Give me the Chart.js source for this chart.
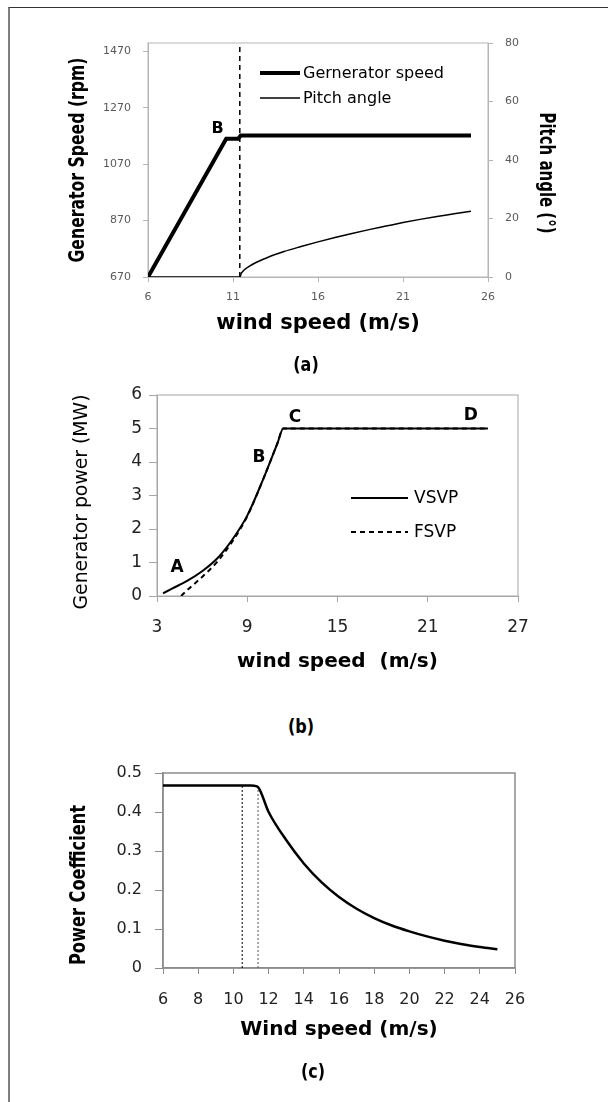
<!DOCTYPE html>
<html>
<head>
<meta charset="utf-8">
<script src="https://cdn.jsdelivr.net/npm/chart.js@4.4.1/dist/chart.umd.min.js"></script>
<style>
  body { margin: 0; background: #fff; }
  #page { position: relative; width: 608px; height: 1102px; overflow: hidden; background: #fff; }
  .frame { position: absolute; left: 8px; top: 7px; right: -2px; bottom: -2px; border-left: 2px solid #7f7f7f; border-top: 1px solid #333; }
  canvas { position: absolute; left: 0; }
  .cap { position: absolute; transform: translate(-50%, -50%) scaleX(0.8); font: bold 20px "DejaVu Sans", sans-serif; color: #000; }
</style>
</head>
<body>
<div id="page">
  <div class="frame"></div>
  <canvas id="chartA" width="608" height="380" style="top:0px"></canvas>
  <canvas id="chartB" width="608" height="330" style="top:370px"></canvas>
  <canvas id="chartC" width="608" height="362" style="top:740px"></canvas>
  <div class="cap" style="left:306px; top:364px">(a)</div>
  <div class="cap" style="left:301px; top:726px">(b)</div>
  <div class="cap" style="left:313px; top:1071px">(c)</div>
</div>
<script>
// (a) generator speed and pitch angle vs wind speed
const genWind = [6, 10.6, 11.3, 11.45, 25];
const genSpeed = [670, 1160, 1160, 1172, 1172];
const pitchWind = [6, 11.4, 11.5, 12, 13, 14, 15, 16, 17, 18, 19, 20, 21, 22, 23, 24, 25];
const pitchAngle = [0, 0, 1.4, 3.8, 6.6, 8.7, 10.4, 12.0, 13.5, 14.9, 16.2, 17.4, 18.6, 19.7, 20.7, 21.6, 22.5];
const ratedWind = 11.4;
const aWindTicks = [6, 11, 16, 21, 26];
const aSpeedTicks = [670, 870, 1070, 1270, 1470];
const aPitchTicks = [0, 20, 40, 60, 80];

// (b) generator power
const vsvpWind = [3.4, 4, 5, 6, 7, 8, 9, 10, 11, 11.4, 25];
const vsvpPower = [0.08, 0.22, 0.45, 0.74, 1.12, 1.68, 2.4, 3.42, 4.55, 5, 5];
const fsvpWind = [4.6, 5, 6, 7, 8, 9, 10, 11, 11.4, 25];
const fsvpPower = [0, 0.17, 0.57, 1.02, 1.62, 2.38, 3.42, 4.55, 5, 5];
const bWindTicks = [3, 9, 15, 21, 27];
const bPowerTicks = [0, 1, 2, 3, 4, 5, 6];

// (c) power coefficient
const cpWind = [6, 7, 8, 9, 10, 10.5, 11, 11.2, 11.4, 12, 13, 14, 15, 16, 17, 18, 19, 20, 21, 22, 23, 24, 25];
const cpValue = [0.468, 0.468, 0.468, 0.468, 0.468, 0.468, 0.468, 0.467, 0.464, 0.400, 0.328, 0.268, 0.220, 0.182, 0.152, 0.128, 0.109, 0.094, 0.081, 0.070, 0.061, 0.054, 0.048];
const cpMarkWind = [10.5, 11.4];
const cWindTicks = [6, 8, 10, 12, 14, 16, 18, 20, 22, 24, 26];
const cCpTicks = [0, 0.1, 0.2, 0.3, 0.4, 0.5];

Chart.defaults.font.family = '"DejaVu Sans", sans-serif';
Chart.defaults.color = '#000';
Chart.defaults.animation = false;

const pts = (xs, ys) => xs.map((x, i) => ({ x: x, y: ys[i] }));
const tickFix = values => scale => { scale.ticks = values.map(v => ({ value: v })); };

// plot box around the chart area
const framePlugin = {
  id: 'frame',
  beforeDatasetsDraw(chart, args, opts) {
    const { left, top, right, bottom } = chart.chartArea;
    const ctx = chart.ctx;
    ctx.save();
    ctx.strokeStyle = opts.color;
    ctx.lineWidth = opts.width;
    ctx.strokeRect(left, top, right - left, bottom - top);
    ctx.restore();
  }
};

// letters on the curves, the little key box and the squeezed side titles
const notesPlugin = {
  id: 'notes',
  afterDatasetsDraw(chart, args, opts) {
    const ctx = chart.ctx;
    const area = chart.chartArea;
    ctx.save();
    ctx.fillStyle = '#000';
    ctx.textBaseline = 'middle';
    ctx.textAlign = 'center';
    ctx.font = opts.font;
    (opts.items || []).forEach(n => {
      const x = chart.scales.x.getPixelForValue(n.x);
      const y = chart.scales[n.axis || 'y'].getPixelForValue(n.y);
      ctx.fillText(n.text, x, y);
    });
    ctx.textAlign = 'left';
    ctx.font = opts.keyFont;
    (opts.keys || []).forEach(k => {
      const y = area.top + k.dy;
      ctx.strokeStyle = '#000';
      ctx.lineWidth = k.width;
      ctx.setLineDash(k.dash || []);
      ctx.beginPath();
      ctx.moveTo(area.left + opts.x0, y);
      ctx.lineTo(area.left + opts.x1, y);
      ctx.stroke();
      ctx.setLineDash([]);
      ctx.fillText(k.label, area.left + opts.tx, y + 1);
    });
    ctx.textAlign = 'center';
    (opts.sides || []).forEach(t => {
      ctx.save();
      ctx.translate(t.cx, t.cy);
      ctx.rotate(t.right ? Math.PI / 2 : -Math.PI / 2);
      ctx.font = t.font;
      ctx.fillText(t.text, 0, 0, t.len);
      ctx.restore();
    });
    ctx.restore();
  }
};

function axisBase(color, tickLen, ticks, size, pad) {
  return {
    type: 'linear',
    afterBuildTicks: tickFix(ticks),
    grid: { drawOnChartArea: false, drawTicks: true, tickLength: tickLen, color: color, tickColor: color },
    border: { display: true, color: color },
    ticks: { autoSkip: false, maxRotation: 0, padding: pad, font: { size: size }, callback: v => String(v) }
  };
}

// ---------- (a) ----------
const grayA = '#b5b5b5';
const axA = {
  x: Object.assign(axisBase(grayA, 5, aWindTicks, 11, 9), {
    min: 6, max: 26,
    afterFit: s => { s.height = 103; },
    title: { display: true, text: 'wind speed (m/s)', font: { size: 21, weight: 'bold' }, padding: { top: 0, bottom: 44 } }
  }),
  y: Object.assign(axisBase(grayA, 5, aSpeedTicks, 11, 12), {
    position: 'left', min: 670, max: 1500,
    afterFit: s => { s.width = 148; }
  }),
  y1: Object.assign(axisBase(grayA, 5, aPitchTicks, 11, 12), {
    position: 'right', min: 0, max: 80,
    afterFit: s => { s.width = 120; }
  })
};
axA.x.ticks.color = '#595959';
axA.y.ticks.color = '#595959';
axA.y1.ticks.color = '#595959';

new Chart(document.getElementById('chartA'), {
  type: 'line',
  data: {
    datasets: [
      { data: pts(genWind, genSpeed), yAxisID: 'y', borderColor: '#000', borderWidth: 4, pointRadius: 0, tension: 0 },
      { data: pts(pitchWind, pitchAngle), yAxisID: 'y1', borderColor: '#000', borderWidth: 1.5, pointRadius: 0, cubicInterpolationMode: 'monotone' },
      { data: pts([ratedWind, ratedWind], [0, 80]), yAxisID: 'y1', borderColor: '#000', borderWidth: 1.5, borderDash: [5, 4], pointRadius: 0 }
    ]
  },
  options: {
    responsive: false,
    layout: { padding: { top: 43, left: 0, right: 0, bottom: 0 } },
    scales: axA,
    plugins: {
      legend: { display: false },
      tooltip: { enabled: false },
      frame: { color: grayA, width: 1 },
      notes: {
        font: 'bold 16px "DejaVu Sans"',
        items: [{ text: 'B', x: 10.1, y: 1195 }],
        keyFont: '16px "DejaVu Sans"',
        x0: 112, x1: 152, tx: 155,
        keys: [
          { label: 'Gernerator speed', width: 4, dy: 30 },
          { label: 'Pitch angle', width: 1.5, dy: 55 }
        ],
        sides: [
          { text: 'Generator Speed (rpm)', cx: 78, cy: 160, len: 205, font: 'bold 22px "DejaVu Sans"' },
          { text: 'Pitch angle (°)', cx: 545, cy: 173, len: 121, font: 'bold 21px "DejaVu Sans"', right: true }
        ]
      }
    }
  },
  plugins: [framePlugin, notesPlugin]
});

// ---------- (b) ----------
const grayB = '#a6a6a6';
const axB = {
  x: Object.assign(axisBase(grayB, 6, bWindTicks, 17, 15), {
    min: 3, max: 27,
    afterFit: s => { s.height = 104; },
    title: { display: true, text: 'wind speed  (m/s)', font: { size: 20, weight: 'bold' }, padding: { top: 0, bottom: 26 } }
  }),
  y: Object.assign(axisBase(grayB, 8, bPowerTicks, 17, 7), {
    min: 0, max: 6,
    afterFit: s => { s.width = 157; }
  })
};
axB.x.ticks.color = '#222';
axB.y.ticks.color = '#222';

new Chart(document.getElementById('chartB'), {
  type: 'line',
  data: {
    datasets: [
      { data: pts(vsvpWind, vsvpPower), borderColor: '#000', borderWidth: 2, pointRadius: 0, cubicInterpolationMode: 'monotone' },
      { data: pts(fsvpWind, fsvpPower), borderColor: '#000', borderWidth: 2, borderDash: [5, 4], pointRadius: 0, cubicInterpolationMode: 'monotone' }
    ]
  },
  options: {
    responsive: false,
    layout: { padding: { top: 25, left: 0, right: 90, bottom: 0 } },
    scales: axB,
    plugins: {
      legend: { display: false },
      tooltip: { enabled: false },
      frame: { color: grayB, width: 1 },
      notes: {
        font: 'bold 17px "DejaVu Sans"',
        items: [
          { text: 'A', x: 4.33, y: 0.84 },
          { text: 'B', x: 9.78, y: 4.12 },
          { text: 'C', x: 12.17, y: 5.34 },
          { text: 'D', x: 23.86, y: 5.4 }
        ],
        keyFont: '17px "DejaVu Sans"',
        x0: 194, x1: 251, tx: 257,
        keys: [
          { label: 'VSVP', width: 2, dy: 103 },
          { label: 'FSVP', width: 2, dy: 137, dash: [5, 4] }
        ],
        sides: [
          { text: 'Generator power (MW)', cx: 82, cy: 132, len: 215, font: '20px "DejaVu Sans"' }
        ]
      }
    }
  },
  plugins: [framePlugin, notesPlugin]
});

// ---------- (c) ----------
const grayC = '#8c8c8c';
const axC = {
  x: Object.assign(axisBase(grayC, 6, cWindTicks, 16, 16), {
    min: 6, max: 26,
    afterFit: s => { s.height = 134; },
    title: { display: true, text: 'Wind speed (m/s)', font: { size: 20, weight: 'bold' }, padding: { top: 0, bottom: 60 } }
  }),
  y: Object.assign(axisBase(grayC, 8, cCpTicks, 16, 13), {
    min: 0, max: 0.5,
    afterFit: s => { s.width = 163; }
  })
};
axC.x.ticks.color = '#222';
axC.y.ticks.color = '#222';
axC.x.border.width = 1.5;
axC.y.border.width = 1.5;

new Chart(document.getElementById('chartC'), {
  type: 'line',
  data: {
    datasets: [
      { data: pts(cpWind, cpValue), borderColor: '#000', borderWidth: 2.5, pointRadius: 0, cubicInterpolationMode: 'monotone' },
      { data: pts([cpMarkWind[0], cpMarkWind[0]], [0, cpValue[5]]), borderColor: '#000', borderWidth: 1, borderDash: [2, 2], pointRadius: 0 },
      { data: pts([cpMarkWind[1], cpMarkWind[1]], [0, cpValue[8]]), borderColor: '#555', borderWidth: 1, borderDash: [2, 2], pointRadius: 0 }
    ]
  },
  options: {
    responsive: false,
    layout: { padding: { top: 33, left: 0, right: 93, bottom: 0 } },
    scales: axC,
    plugins: {
      legend: { display: false },
      tooltip: { enabled: false },
      frame: { color: grayC, width: 1.5 },
      notes: {
        sides: [
          { text: 'Power Coefficient', cx: 80, cy: 145, len: 160, font: 'bold 21px "DejaVu Sans"' }
        ]
      }
    }
  },
  plugins: [framePlugin, notesPlugin]
});
</script>
</body>
</html>
